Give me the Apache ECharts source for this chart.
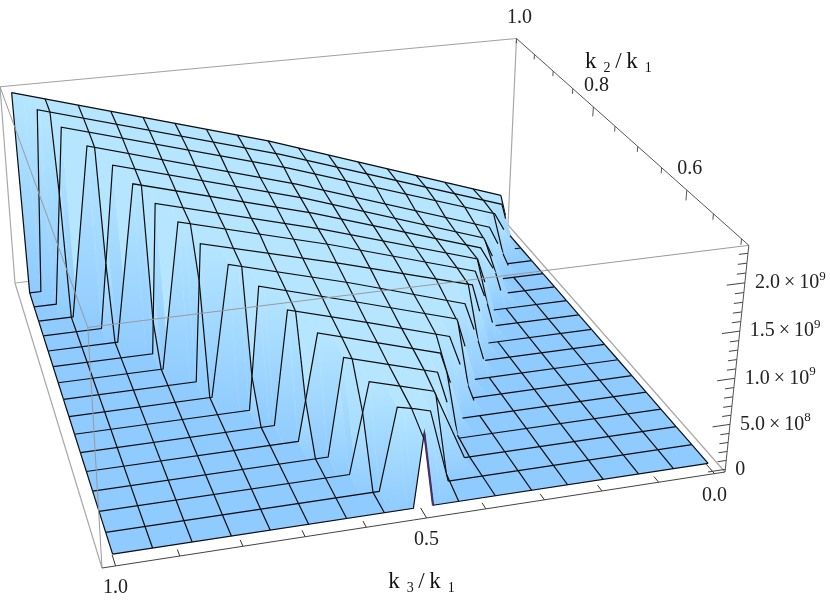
<!DOCTYPE html>
<html>
<head>
<meta charset="utf-8">
<style>html,body{margin:0;padding:0;background:#fff}#chart{width:830px;height:607px}</style>
<script src="https://cdn.jsdelivr.net/npm/echarts@6/dist/echarts.min.js"></script>
</head>
<body>
<div id="chart"></div>
<script>
// mesh positions, index 0 is the front row (k2 = 0.5)
const k3Mesh = [1, .9375, .875, .8125, .75, .6875, .625, .5625, .5, .4375, .375, .3125, .25, .1875, .125, .0625, 0]
const k2Mesh = [.5, .53125, .5625, .59375, .625, .65625, .6875, .71875, .75, .78125, .8125, .84375, .875, .90625, .9375, .96875, 1]

// one value per k2 row: where the raised part starts and ends in k3, and its height (units of 1e8)
const wallBaseL = [.514, .552, .584, .603, .638, .664, .693, .746, .761, .809, .816, .87, .89, .934, .957, .978, 1]
const wallTopL = [.499, .524, .552, .577, .604, .639, .673, .711, .746, .772, .8, .828, .853, .889, .926, .961, 1]
const wallTopR = [.499, .468, .441, .414, .388, .35, .315, .278, .242, .214, .187, .158, .129, .094, .06, .021, 0]
const wallBaseR = [.481, .434, .384, .373, .344, .303, .277, .235, .206, .169, .15, .098, .085, .051, .013, 0, 0]
const heightL = [8, 8.9, 9.9, 10.8, 11.8, 12.8, 13.9, 14.9, 15.8, 16.8, 17.5, 18.4, 19.2, 20.2, 21.2, 22.1, 23]
const heightMid = [8, 8.5, 8.9, 9.3, 9.8, 10.2, 10.7, 11.2, 11.7, 12.2, 12.4, 12.7, 12.9, 13.1, 13.6, 13.8, 14.1]
const heightR = [8, 8, 7.9, 7.8, 7.8, 7.5, 7.4, 7.1, 7.3, 7, 6.6, 6.1, 5.5, 5, 4.9, 4.3, 3.8]

// axis ticks
const k3Ticks = [1, .9, .8, .7, .6, .5, .4, .3, .2, .1, 0]
const k3Labels = [[1, '1.0'], [.5, '0.5'], [0, '0.0']]
const k2Ticks = [.5, .55, .6, .65, .7, .75, .8, .85, .9, .95, 1]
const k2Labels = [[.6, '0.6'], [.8, '0.8'], [1, '1.0']]
const zTicks = [0, 1, 2, 3, 4, 5, 6, 7, 8, 9, 10, 11, 12, 13, 14, 15, 16, 17, 18, 19, 20, 21, 22, 23]
const zLabels = [[0, '{a|0}'], [5, '{a|5.0\u2009×\u200910}{s|8}'], [10, '{a|1.0\u2009×\u200910}{s|9}'],
    [15, '{a|1.5\u2009×\u200910}{s|9}'], [20, '{a|2.0\u2009×\u200910}{s|9}']]

// camera: where the floor of the box lands on the page, and the homogeneous step of the vertical axis
const floorCorners = [[102, 568], [725, 472], [508, 225], [15, 283]]
const vertical = [-19.5, -260.4, -.0605]

const FLOOR = '#8fcbff', TOP = '#b6e6ff', FONT = '"Liberation Serif"'

const homography = (q => {
    const [x0, y0] = q[0], [x1, y1] = q[1], [x2, y2] = q[2], [x3, y3] = q[3]
    const dx1 = x1 - x2, dx2 = x3 - x2, dy1 = y1 - y2, dy2 = y3 - y2
    const sx = x0 - x1 + x2 - x3, sy = y0 - y1 + y2 - y3
    const den = dx1 * dy2 - dx2 * dy1
    const g = (sx * dy2 - dx2 * sy) / den, h = (dx1 * sy - sx * dy1) / den
    return { a: x1 - x0 + g * x1, b: x3 - x0 + h * x3, c: x0, d: y1 - y0 + g * y1, e: y3 - y0 + h * y3, f: y0, g, h }
})(floorCorners)

const projectBox = (u, v, w) => {
    const H = homography
    const s = H.g * u + H.h * v + 1 + w * vertical[2]
    return [(H.a * u + H.b * v + H.c + w * vertical[0]) / s, (H.d * u + H.e * v + H.f + w * vertical[1]) / s]
}
const uOf = k3 => (1.021 - k3) / 1.04
const vOf = k2 => (k2 - .4875) / .5125
const wOf = z => (z + .3) / 24.1
const project = ([k3, k2, z]) => projectBox(uOf(k3), vOf(k2), wOf(z))

// the profile of one row: k3 descending, with its height
const rowProfile = r => {
    const mid = (wallTopL[r] + wallTopR[r]) / 2
    const p = [[1, 0], [wallBaseL[r], 0], [wallTopL[r], heightL[r]], [mid, heightMid[r]],
        [wallTopR[r], heightR[r]], [wallBaseR[r], 0], [0, 0]]
    // the back row has no walls
    return r === k2Mesh.length - 1 ? p.slice(2, 5) : p
}
const heightAt = (p, k3) => {
    for (let i = 1; i < p.length; i++) {
        if (k3 >= p[i][0] && p[i - 1][0] > p[i][0]) {
            const t = (p[i - 1][0] - k3) / (p[i - 1][0] - p[i][0])
            return p[i - 1][1] + t * (p[i][1] - p[i - 1][1])
        }
    }
    return p[p.length - 1][1]
}
const along = (p, q, t) => p.map((v, i) => v + (q[i] - v) * t)

// mesh lines fade out half way down the steep face on the right
const rowLines = r => {
    const k = k2Mesh[r]
    const p = rowProfile(r).map(a => [a[0], k, a[1]])
    if (p.length < 7) return [p]
    const upper = p.slice(0, 5)
    upper.push(along(p[4], p[5], r < 3 ? 1 : .45))
    return [upper, p.slice(5)]
}
const colLine = (k, r, back, front) => {
    const a = [k, k2Mesh[r + 1], heightAt(back, k)], b = [k, k2Mesh[r], heightAt(front, k)]
    if (k < .46 && r > 2 && a[2] > 0 && b[2] <= 0) return [a, along(a, b, .5)]
    return [a, b]
}

const quads = []
for (let r = k2Mesh.length - 2; r >= 0; r--) {
    const back = rowProfile(r + 1), front = rowProfile(r)
    const set = new Set(k3Mesh)
    back.concat(front).forEach(p => set.add(p[0]))
    const cuts = Array.from(set).sort((a, b) => b - a)
    const cells = []
    for (let i = 0; i < cuts.length - 1; i++) {
        const a = cuts[i], b = cuts[i + 1]
        if (a - b < 1e-6) continue
        cells.push({ a, b, pts: [
            [a, k2Mesh[r], heightAt(front, a)], [b, k2Mesh[r], heightAt(front, b)],
            [b, k2Mesh[r + 1], heightAt(back, b)], [a, k2Mesh[r + 1], heightAt(back, a)]] })
    }
    cells.sort((p, q) => Math.abs((q.a + q.b) / 2 - .5) - Math.abs((p.a + p.b) / 2 - .5))
    cells.forEach(c => quads.push({ pts: c.pts }))
    // the row behind, then the mesh columns of this strip
    rowLines(r + 1).forEach(line => quads.push({ line }))
    k3Mesh.forEach(k => quads.push({ line: colLine(k, r, back, front) }))
    if (r === 0) rowLines(0).forEach(line => quads.push({ line }))
}

const mix = t => {
    const c = (p, q) => Math.round(p + (q - p) * t)
    return 'rgb(' + c(143, 182) + ',' + c(203, 230) + ',' + c(255, 255) + ')'
}
const renderSurface = (params, api) => {
    const q = quads[params.dataIndex]
    const toPx = p => api.coord(project(p))
    if (q.line) {
        return { type: 'polyline', shape: { points: q.line.map(toPx) },
            style: { stroke: '#0c0c0c', lineWidth: 1.2, fill: null } }
    }
    const pts = q.pts.map(toPx)
    const zs = q.pts.map(p => p[2])
    const hi = zs.indexOf(Math.max.apply(null, zs)), lo = zs.indexOf(Math.min.apply(null, zs))
    let fill = zs[hi] <= 0 ? FLOOR : TOP
    if (zs[lo] < 3 && zs[hi] > 0) {
        fill = new echarts.graphic.LinearGradient(pts[hi][0], pts[hi][1], pts[lo][0], pts[lo][1], [
            { offset: 0, color: mix(Math.min(1, zs[hi] / 4)) },
            { offset: 1, color: mix(Math.min(1, zs[lo] / 4)) }], true)
    }
    return { type: 'polygon', shape: { points: pts }, style: { fill, stroke: fill, lineWidth: .4 } }
}

// box edges and ticks, in box units
const edge = (a, b, color, width) => ({ a, b, color, width: width || 1 })
const backEdges = [
    edge([1, 1, 0], [1, 1, 1], '#a8a8a8', 1.2),
    edge([0, 1, 0], [1, 1, 0], '#a8a8a8'),
    edge([0, 1, 0], [0, 1, 1], '#a8a8a8', 1.2),
    edge([0, 1, 1], [1, 1, 1], '#a0a0a0'),
    edge([0, 0, 0], [0, 1, 0], '#a8a8a8', 1.2),
    edge([1, 0, 0], [1, 1, 0], '#a8a8a8', 1.2)
]
const frontEdges = [
    edge([0, 0, 1], [1, 0, 1], '#9a9a9a'),
    edge([0, 0, 1], [0, 1, 1], '#9a9a9a'),
    edge([0, 0, 0], [0, 0, 1], '#9a9a9a'),
    edge([0, 0, 0], [1, 0, 0], '#444'),
    edge([1, 0, 0], [1, 0, 1], '#555'),
    edge([1, 0, 1], [1, 1, 1], '#555')
]
k3Ticks.forEach(k => {
    const major = k3Labels.some(l => l[0] === k)
    frontEdges.push(edge([uOf(k), 0, 0], [uOf(k), major ? .03 : .018, 0], '#333'))
})
k2Ticks.forEach(k => {
    const major = k === .6 || k === .8
    frontEdges.push(edge([1, vOf(k), 1], [1, vOf(k), major ? .955 : .975], '#555'))
})
zTicks.forEach(z => {
    const major = z % 5 === 0
    frontEdges.push(edge([1, 0, wOf(z)], [major ? .97 : .985, 0, wOf(z)], '#444'))
})

const renderEdge = list => (params, api) => {
    const e = list[params.dataIndex]
    const a = api.coord(projectBox(e.a[0], e.a[1], e.a[2])), b = api.coord(projectBox(e.b[0], e.b[1], e.b[2]))
    return { type: 'line', shape: { x1: a[0], y1: a[1], x2: b[0], y2: b[1] },
        style: { stroke: e.color, lineWidth: e.width } }
}

// texts
const texts = []
k3Labels.forEach(l => texts.push({ at: projectBox(uOf(l[0]), 0, 0), dx: 0, dy: 22, text: l[1], align: 'center', size: 20 }))
k2Labels.forEach(l => texts.push({ at: projectBox(1, vOf(l[0]), 1), dx: 3, dy: -21, text: l[1], align: 'center', size: 20 }))
zLabels.forEach(l => texts.push({ at: projectBox(1, 0, wOf(l[0])), dx: 10, dy: 0, text: l[1], align: 'left', size: 20 }))
const subTitle = (a, b) => '{k|k}{n|\u2002' + a + '}{k|\u2009/\u2009k}{n|\u2002' + b + '}'
texts.push({ at: projectBox(uOf(.5), 0, 0), dx: -5, dy: 64, text: subTitle(3, 1), align: 'center', size: 23 })
texts.push({ at: projectBox(1, vOf(.8), 1), dx: 25, dy: -45, text: subTitle(2, 1), align: 'center', size: 23 })

const renderText = (params, api) => {
    const t = texts[params.dataIndex]
    const p = api.coord(t.at)
    return { type: 'text', x: p[0] + t.dx, y: p[1] + t.dy, style: {
        text: t.text, fill: '#222', font: t.size + 'px ' + FONT, align: t.align, verticalAlign: 'middle',
        rich: {
            a: { fontSize: t.size, fontFamily: FONT, fill: '#222', lineHeight: 26 },
            s: { fontSize: 13, fontFamily: FONT, fill: '#222', verticalAlign: 'top', lineHeight: 26 },
            k: { fontSize: t.size, fontFamily: FONT, fill: '#111', lineHeight: 26 },
            n: { fontSize: 14, fontFamily: FONT, fill: '#111', verticalAlign: 'bottom', lineHeight: 26 }
        } } }
}

const sliver = [[wallTopL[0], k2Mesh[0], heightL[0]], [wallBaseR[0], k2Mesh[0], 0]]
const renderSliver = (params, api) => {
    const a = api.coord(project(sliver[0])), b = api.coord(project(sliver[1]))
    return { type: 'line', shape: { x1: a[0], y1: a[1], x2: b[0], y2: b[1] },
        style: { stroke: '#4a2e66', lineWidth: 2.2 } }
}

const custom = (z, list, renderItem) => ({
    type: 'custom', coordinateSystem: 'cartesian2d', z, silent: true, clip: false,
    data: list.map((_, i) => [i]), renderItem, encode: { x: 0 }
})

const chart = echarts.init(document.getElementById('chart'), null, { renderer: 'canvas' })
chart.setOption({
    animation: false,
    backgroundColor: '#fff',
    grid: { left: 0, right: 0, top: 0, bottom: 0 },
    xAxis: { type: 'value', min: 0, max: 830, show: false },
    yAxis: { type: 'value', min: 0, max: 607, inverse: true, show: false },
    series: [
        custom(1, backEdges, renderEdge(backEdges)),
        custom(2, quads, renderSurface),
        custom(3, [0], renderSliver),
        custom(4, frontEdges, renderEdge(frontEdges)),
        custom(5, texts, renderText)
    ]
})
</script>
</body>
</html>
